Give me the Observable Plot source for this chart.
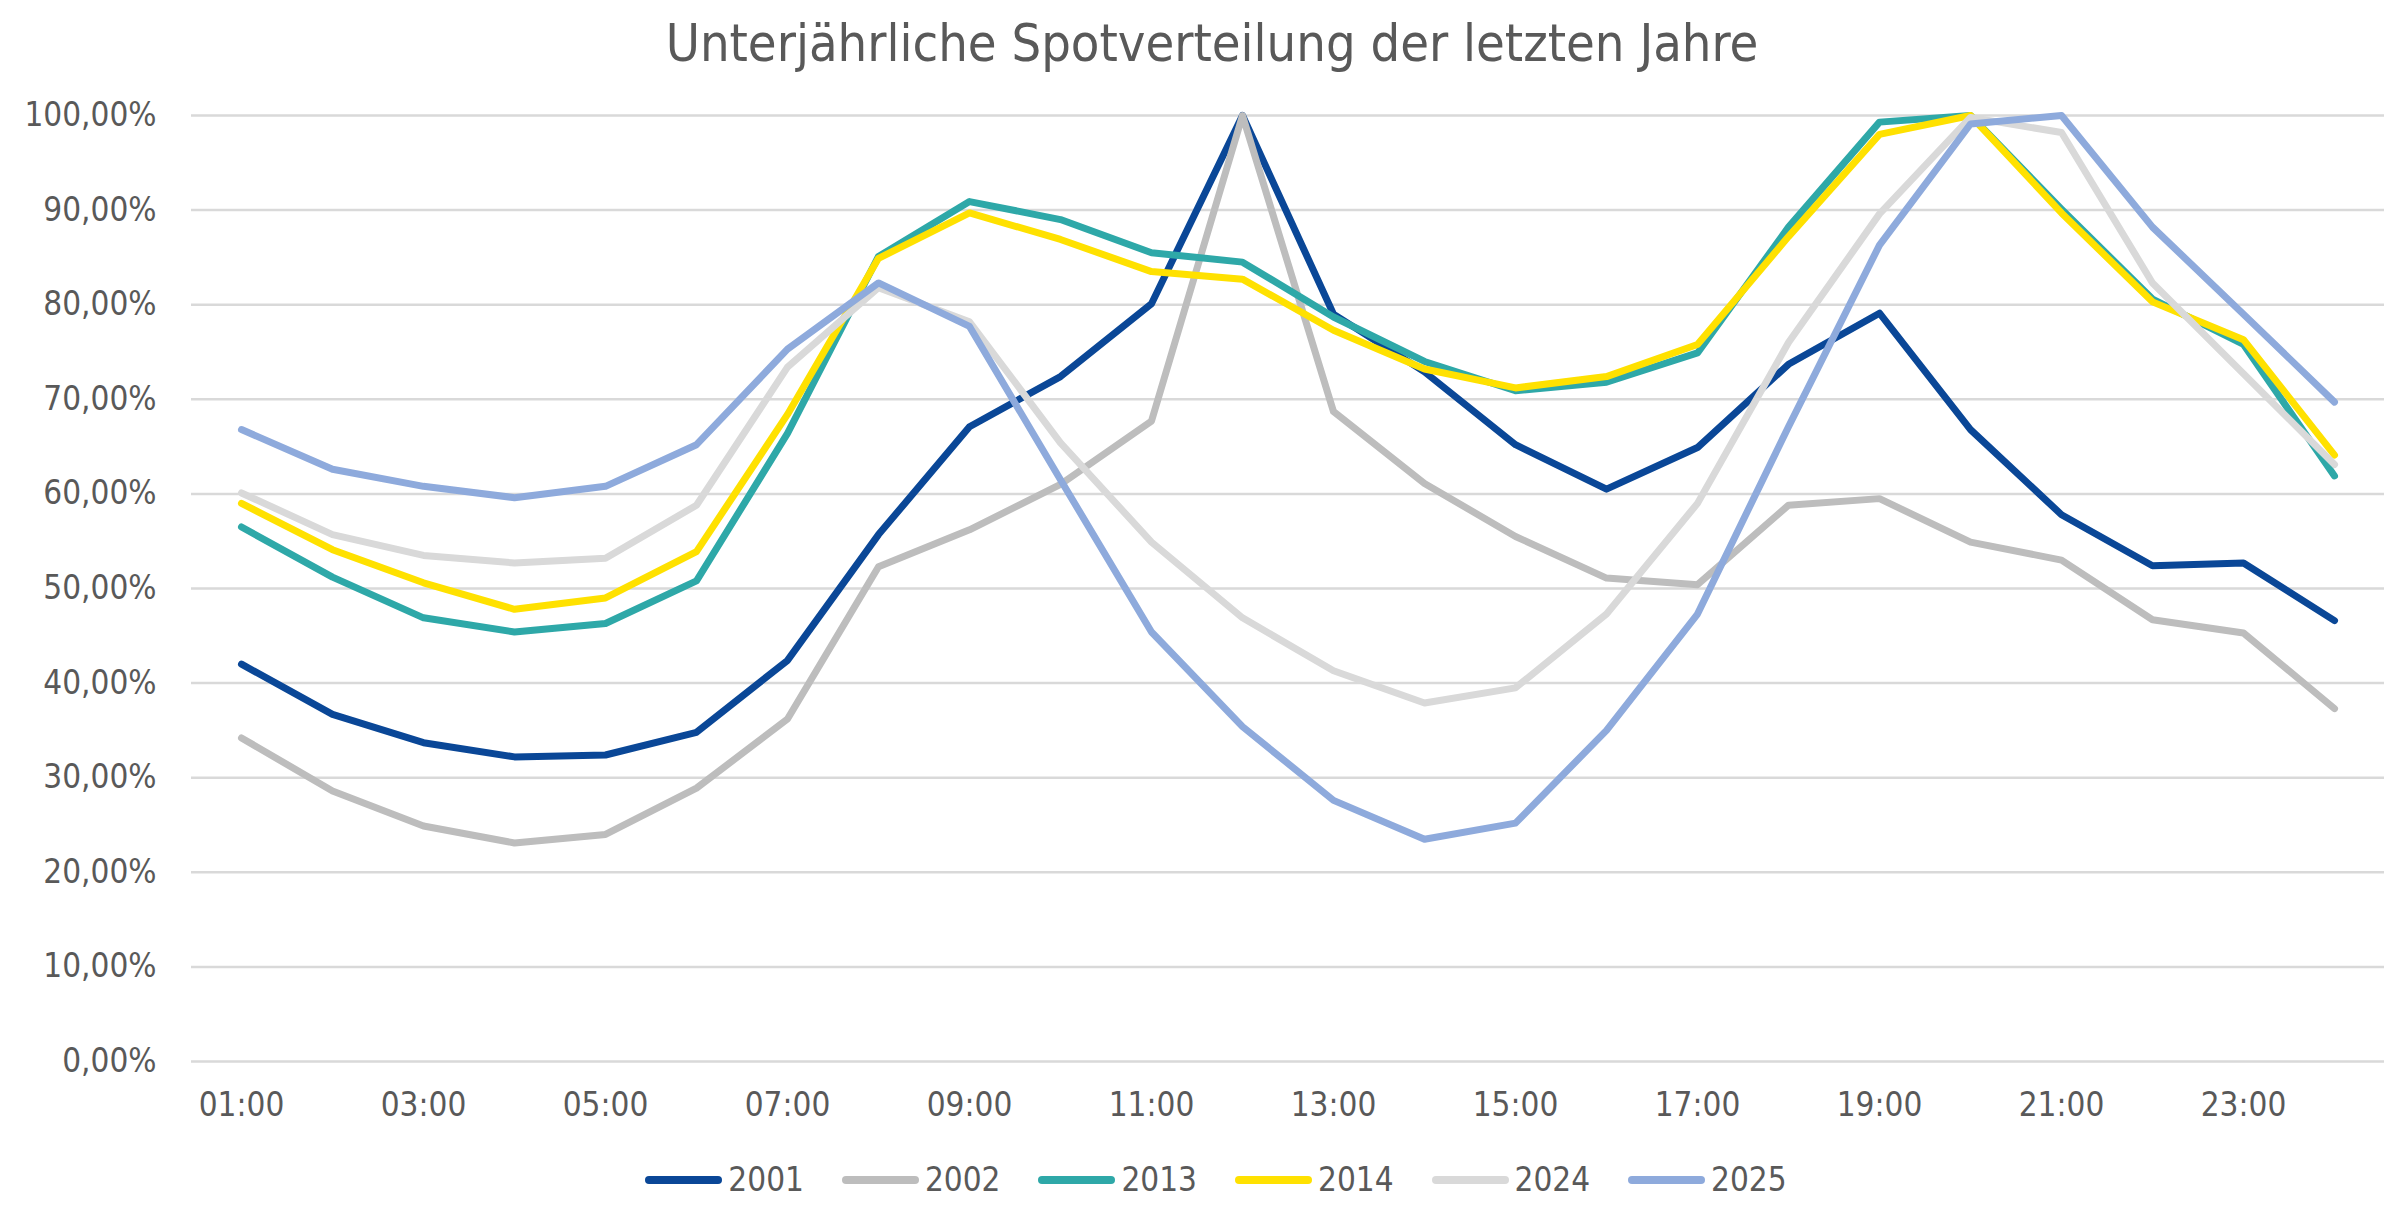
<!DOCTYPE html>
<html>
<head>
<meta charset="utf-8">
<script src="https://cdn.jsdelivr.net/npm/d3@7"></script>
<script src="https://cdn.jsdelivr.net/npm/@observablehq/plot@0.6"></script>
<style>
  html, body { margin: 0; padding: 0; background: #fff; }
  body { width: 2400px; height: 1230px; position: relative; overflow: hidden;
         font-family: "DejaVu Sans Condensed", "DejaVu Sans", sans-serif; color: #595959; }
  #title { position: absolute; left: 0; top: 8px; width: 2424px; text-align: center;
           font-size: 52px; line-height: 70px; color: #595959; }
  #chart { position: absolute; left: 0; top: 80px; }
  #legend { position: absolute; left: 0; top: 1160px; width: 2432px; display: flex;
            justify-content: center; align-items: center; font-size: 33px; color: #595959; }
  .item { display: flex; align-items: center; margin: 0 19px; }
  .sw { width: 77px; height: 8px; border-radius: 4px; margin-right: 6px; }
</style>
</head>
<body>
<div id="title">Unterjährliche Spotverteilung der letzten Jahre</div>
<div id="chart"></div>
<div id="legend"></div>
<script>
const hours = ["01:00","02:00","03:00","04:00","05:00","06:00","07:00","08:00","09:00","10:00","11:00","12:00",
               "13:00","14:00","15:00","16:00","17:00","18:00","19:00","20:00","21:00","22:00","23:00","24:00"];
const tickLabels = ["01:00","03:00","05:00","07:00","09:00","11:00","13:00","15:00","17:00","19:00","21:00","23:00"];
const yTicks = [0, 0.1, 0.2, 0.3, 0.4, 0.5, 0.6, 0.7, 0.8, 0.9, 1.0];

const years = ["2001", "2002", "2013", "2014", "2024", "2025"];
const colors = ["#0a4797", "#bdbdbd", "#2ea8a8", "#ffe100", "#d9d9d9", "#8eaadc"];

const v2001 = [42.0, 36.7, 33.7, 32.2, 32.4, 34.8, 42.4, 55.7, 67.1, 72.4, 80.1, 100, 79.0, 72.9, 65.2, 60.5, 64.9, 73.7, 79.1, 66.8, 57.8, 52.4, 52.7, 46.6];
const v2002 = [34.2, 28.6, 24.9, 23.1, 24.0, 28.9, 36.2, 52.3, 56.2, 61.0, 67.7, 100, 68.7, 61.1, 55.5, 51.1, 50.4, 58.8, 59.5, 54.9, 53.0, 46.7, 45.3, 37.3];
const v2013 = [56.5, 51.2, 46.9, 45.4, 46.3, 50.8, 66.4, 85.1, 90.9, 89.0, 85.5, 84.5, 78.7, 74.0, 70.9, 71.8, 74.9, 88.2, 99.3, 100, 90.1, 80.6, 75.8, 61.9];
const v2014 = [59.0, 54.1, 50.6, 47.8, 49.0, 53.9, 68.4, 84.9, 89.7, 86.9, 83.5, 82.7, 77.3, 73.2, 71.2, 72.4, 75.8, 87.2, 98.0, 100, 89.7, 80.3, 76.3, 64.1];
const v2024 = [60.1, 55.7, 53.5, 52.7, 53.2, 58.8, 73.4, 81.8, 78.2, 65.4, 54.9, 46.9, 41.3, 37.9, 39.5, 47.3, 59.0, 76.0, 89.6, 99.8, 98.2, 82.3, 72.7, 63.1];
const v2025 = [66.8, 62.6, 60.8, 59.6, 60.8, 65.2, 75.3, 82.3, 77.7, 61.5, 45.4, 35.4, 27.6, 23.5, 25.2, 35.0, 47.3, 67.1, 86.3, 99.1, 100, 88.2, 79.0, 69.7];

const seriesValues = [v2001, v2002, v2013, v2014, v2024, v2025];

const de = d3.formatLocale({decimal: ",", thousands: ".", grouping: [3], currency: ["", " €"]});
const pct = de.format(".2%");

const rows = [];
years.forEach((yr, i) => {
  seriesValues[i].forEach((v, j) => rows.push({year: yr, hour: hours[j], value: v / 100}));
});

const lineMarks = years.map((yr, i) =>
  Plot.line(rows.filter(r => r.year === yr), {
    x: "hour", y: "value", stroke: colors[i], strokeWidth: 7,
    strokeLinejoin: "round", strokeLinecap: "round"
  })
);

const chart = Plot.plot({
  width: 2400,
  height: 1060,
  marginLeft: 191,
  marginRight: 16,
  marginTop: 35,
  marginBottom: 79,
  style: {fontFamily: "'DejaVu Sans Condensed', 'DejaVu Sans', sans-serif", fontSize: "33px", color: "#595959", background: "#fff"},
  x: {type: "point", domain: hours, padding: 0.5},
  y: {domain: [0, 1]},
  marks: [
    Plot.ruleY(yTicks, {stroke: "#d9d9d9", strokeWidth: 2.5}),
    Plot.axisY({ticks: yTicks, tickFormat: pct, tickSize: 0, tickPadding: 35, fill: "#595959", fontSize: 33, label: null}),
    Plot.axisX({ticks: tickLabels, tickSize: 0, tickPadding: 31, fill: "#595959", fontSize: 33, label: null}),
    ...lineMarks
  ]
});
document.getElementById("chart").appendChild(chart);

const legend = document.getElementById("legend");
years.forEach((yr, i) => {
  const it = document.createElement("div");
  it.className = "item";
  const sw = document.createElement("div");
  sw.className = "sw";
  sw.style.background = colors[i];
  const t = document.createElement("span");
  t.textContent = yr;
  it.appendChild(sw); it.appendChild(t);
  legend.appendChild(it);
});
</script>
</body>
</html>
